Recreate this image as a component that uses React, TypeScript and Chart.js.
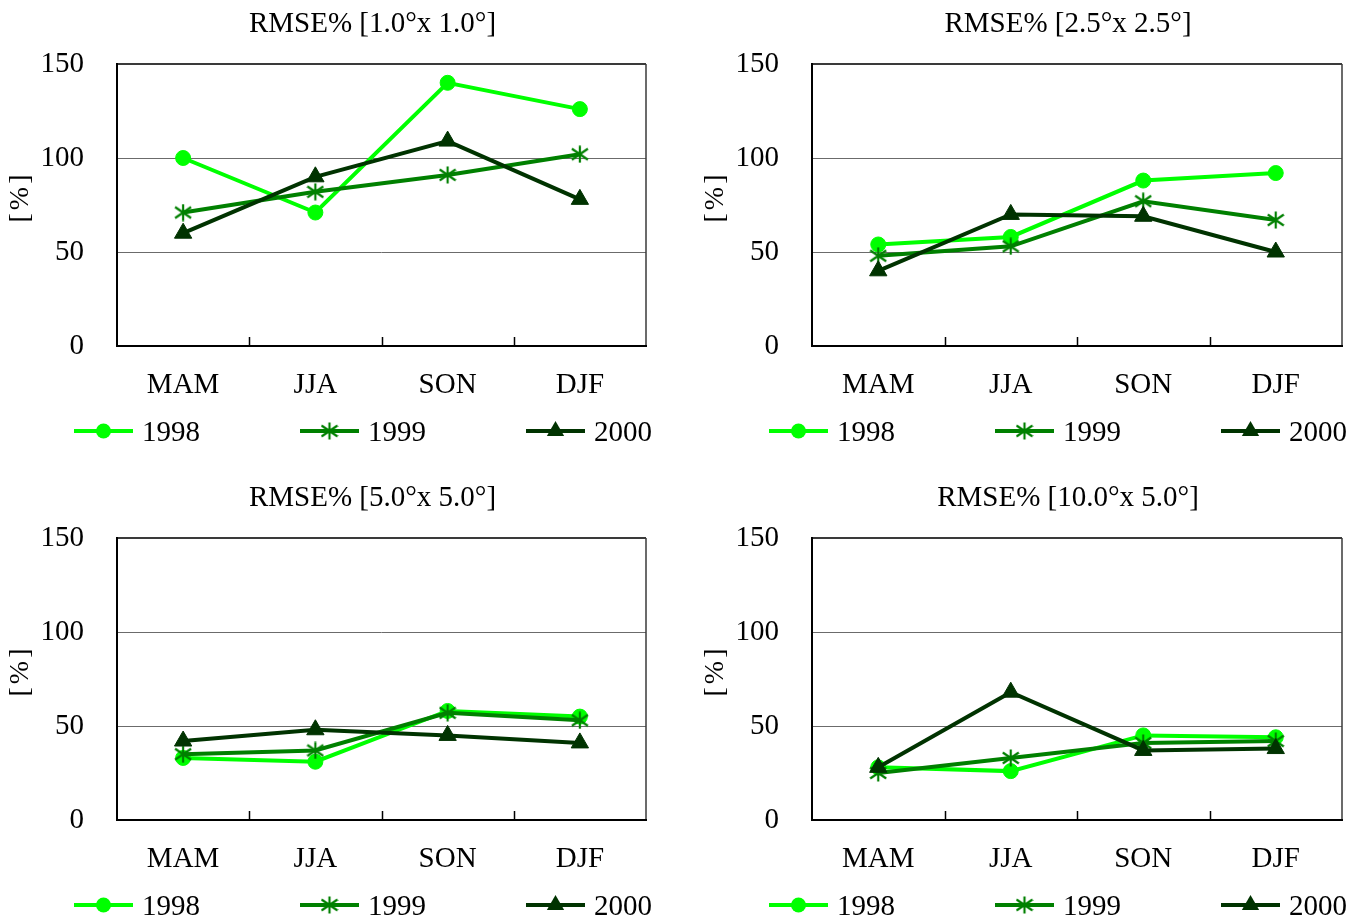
import React, { useEffect, useRef } from 'react';
import { Chart, registerables } from 'chart.js';

Chart.register(...registerables);
Chart.defaults.font.family = '"Liberation Serif", "Times New Roman", serif';
Chart.defaults.color = '#000';

// ---------- data ----------
const seasons = ['MAM', 'JJA', 'SON', 'DJF'];
const years = ['1998', '1999', '2000'];

const titles = ['RMSE% [1.0°x 1.0°]', 'RMSE% [2.5°x 2.5°]', 'RMSE% [5.0°x 5.0°]', 'RMSE% [10.0°x 5.0°]'];

const rmse1x1_1998 = [100, 71, 140, 126];
const rmse1x1_1999 = [71, 82, 91, 102];
const rmse1x1_2000 = [60, 90, 109, 78];

const rmse25_1998 = [54, 58, 88, 92];
const rmse25_1999 = [48, 53, 77, 67];
const rmse25_2000 = [40, 70, 69, 50];

const rmse5_1998 = [33, 31, 58, 55];
const rmse5_1999 = [35, 37, 57, 53];
const rmse5_2000 = [42, 48, 45, 41];

const rmse10_1998 = [28, 26, 45, 44];
const rmse10_1999 = [25, 33, 41, 42];
const rmse10_2000 = [28, 68, 37, 38];

const yMin = 0;
const yMax = 150;
const yStep = 50;

const colors = ['#00ff00', '#008000', '#003300'];
const markers = ['circle', 'star', 'triangle'];

const FONT = '"Liberation Serif", "Times New Roman", serif';
const FS = 29;

// ---------- helpers ----------
function makeStar(color: string): HTMLCanvasElement {
  const c = document.createElement('canvas');
  c.width = 18;
  c.height = 18;
  const g = c.getContext('2d')!;
  g.strokeStyle = color;
  g.lineWidth = 2.2;
  g.beginPath();
  g.moveTo(9, 0.5);
  g.lineTo(9, 17.5);
  g.moveTo(1, 3.5);
  g.lineTo(17, 14.5);
  g.moveTo(1, 14.5);
  g.lineTo(17, 3.5);
  g.stroke();
  return c;
}

function drawMarker(ctx: CanvasRenderingContext2D, kind: string, color: string, x: number, y: number, star: HTMLCanvasElement) {
  ctx.save();
  ctx.fillStyle = color;
  ctx.strokeStyle = color;
  if (kind === 'circle') {
    ctx.beginPath();
    ctx.arc(x, y, 7.5, 0, Math.PI * 2);
    ctx.fill();
  } else if (kind === 'triangle') {
    const r = 10;
    ctx.beginPath();
    ctx.moveTo(x, y - r);
    ctx.lineTo(x + Math.sin((2 * Math.PI) / 3) * r, y - Math.cos((2 * Math.PI) / 3) * r);
    ctx.lineTo(x + Math.sin((4 * Math.PI) / 3) * r, y - Math.cos((4 * Math.PI) / 3) * r);
    ctx.closePath();
    ctx.fill();
  } else {
    ctx.drawImage(star, x - 9, y - 9);
  }
  ctx.restore();
}

const framePlugin = {
  id: 'frame',
  beforeDatasetsDraw(chart: any) {
    const { ctx, chartArea: a, scales } = chart;
    ctx.save();
    ctx.strokeStyle = '#3a3a3a';
    ctx.lineWidth = 2;
    ctx.beginPath();
    ctx.moveTo(a.left, a.top);
    ctx.lineTo(a.right, a.top);
    ctx.stroke();
    ctx.lineWidth = 1.5;
    ctx.beginPath();
    ctx.moveTo(a.right, a.top);
    ctx.lineTo(a.right, a.bottom);
    ctx.stroke();
    ctx.strokeStyle = '#000';
    ctx.lineWidth = 2;
    ctx.beginPath();
    ctx.moveTo(a.left, a.top - 1);
    ctx.lineTo(a.left, a.bottom + 1);
    ctx.moveTo(a.left - 1, a.bottom);
    ctx.lineTo(a.right + 1, a.bottom);
    ctx.stroke();
    const xs = scales.x;
    ctx.lineWidth = 1.5;
    ctx.beginPath();
    for (let i = 1; i < seasons.length; i++) {
      const px = Math.round((xs.getPixelForValue(i - 1) + xs.getPixelForValue(i)) / 2) + 0.5;
      ctx.moveTo(px, a.bottom);
      ctx.lineTo(px, a.bottom - 9);
    }
    ctx.stroke();
    ctx.restore();
  },
  afterDraw(chart: any, _args: any, opts: any) {
    const { ctx, chartArea: a } = chart;
    ctx.save();
    ctx.fillStyle = '#000';
    ctx.font = `${FS}px ${FONT}`;
    ctx.textBaseline = 'middle';
    ctx.textAlign = 'center';
    ctx.fillText(opts.title, (a.left + a.right) / 2 - 9, 24);
    ctx.save();
    ctx.translate(a.left - 96, 198);
    ctx.rotate(-Math.PI / 2);
    ctx.font = `28px ${FONT}`;
    (ctx as any).letterSpacing = '3px';
    ctx.fillText('[%]', 1, 0);
    ctx.restore();
    const ly = a.bottom + 85;
    ctx.textAlign = 'left';
    for (let i = 0; i < years.length; i++) {
      const x0 = a.left - 43 + i * 226;
      ctx.strokeStyle = colors[i];
      ctx.lineWidth = 4;
      ctx.beginPath();
      ctx.moveTo(x0, ly);
      ctx.lineTo(x0 + 59, ly);
      ctx.stroke();
      drawMarker(ctx, markers[i], colors[i], x0 + 29.5, ly, opts.stars[i]);
      ctx.fillStyle = '#000';
      ctx.fillText(years[i], x0 + 68, ly + 2);
    }
    ctx.restore();
  },
};

type PanelProps = {
  title: string;
  series: number[][];
  left: number;
  top: number;
  width: number;
  height: number;
  plotLeft: number;
  plotRight: number;
};

function Panel({ title, series, left, top, width, height, plotLeft, plotRight }: PanelProps) {
  const ref = useRef<HTMLCanvasElement>(null);
  useEffect(() => {
    if (!ref.current) return;
    const stars = colors.map((c) => makeStar(c));
    const pointStyles: any[] = ['circle', stars[1], 'triangle'];
    const radii = [7.5, 9, 10];
    const chart = new Chart(ref.current, {
      type: 'line',
      data: {
        labels: seasons,
        datasets: years.map((y, i) => ({
          label: y,
          data: series[i],
          borderColor: colors[i],
          backgroundColor: colors[i],
          borderWidth: 4,
          pointStyle: pointStyles[i],
          pointRadius: radii[i],
          pointBackgroundColor: colors[i],
          pointBorderColor: colors[i],
          pointBorderWidth: 1,
          fill: false,
          tension: 0,
          order: 3 - i,
        })),
      },
      options: {
        responsive: false,
        maintainAspectRatio: false,
        animation: false,
        devicePixelRatio: 1,
        events: [],
        layout: { padding: { top: 64, left: 0, right: width - plotRight, bottom: 0 } },
        plugins: {
          legend: { display: false },
          title: { display: false },
          tooltip: { enabled: false },
          frame: { title, stars },
        } as any,
        scales: {
          x: {
            type: 'category',
            offset: true,
            grid: { display: false, drawTicks: false },
            border: { display: false },
            ticks: { padding: 22, font: { size: FS }, color: '#000', maxRotation: 0, autoSkip: false },
            afterFit: (s: any) => {
              s.height = height - 346;
            },
          },
          y: {
            min: yMin,
            max: yMax,
            ticks: { stepSize: yStep, padding: 33, font: { size: FS }, color: '#000' },
            grid: {
              drawTicks: false,
              lineWidth: 1,
              color: (c: any) => (c.tick && c.tick.value > yMin && c.tick.value < yMax ? '#6b6b6b' : 'rgba(0,0,0,0)'),
            },
            border: { display: false },
            afterFit: (s: any) => {
              s.width = plotLeft;
            },
          },
        } as any,
      },
      plugins: [framePlugin as any],
    });
    return () => chart.destroy();
  }, []);
  return (
    <canvas
      ref={ref}
      width={width}
      height={height}
      style={{ position: 'absolute', left, top, width, height, display: 'block' }}
    />
  );
}

export default function App() {
  return (
    <div style={{ position: 'absolute', left: 0, top: 0, width: 1356, height: 920, background: '#fff' }}>
      <Panel title={titles[0]} series={[rmse1x1_1998, rmse1x1_1999, rmse1x1_2000]} left={0} top={0} width={678} height={460} plotLeft={117} plotRight={646} />
      <Panel title={titles[1]} series={[rmse25_1998, rmse25_1999, rmse25_2000]} left={678} top={0} width={678} height={460} plotLeft={134} plotRight={664} />
      <Panel title={titles[2]} series={[rmse5_1998, rmse5_1999, rmse5_2000]} left={0} top={474} width={678} height={446} plotLeft={117} plotRight={646} />
      <Panel title={titles[3]} series={[rmse10_1998, rmse10_1999, rmse10_2000]} left={678} top={474} width={678} height={446} plotLeft={134} plotRight={664} />
    </div>
  );
}
